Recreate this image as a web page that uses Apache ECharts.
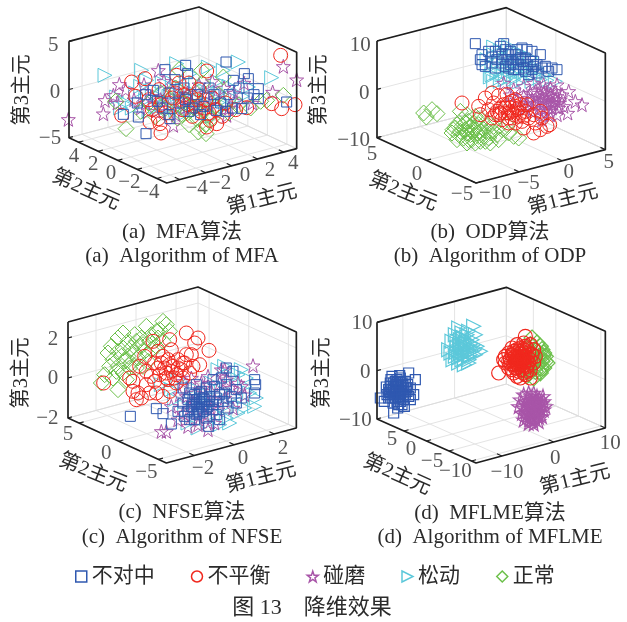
<!DOCTYPE html>
<html><head><meta charset="utf-8">
<style>html,body{margin:0;padding:0;background:#fff}#c{width:627px;height:622px}</style>
<script src="https://cdn.jsdelivr.net/npm/echarts@6/dist/echarts.min.js"></script></head>
<body><div id="c"></div>
<script>
// Projected plane values, [horizontal, vertical]
const aCyan=[[108,323],[218,338],[323,358],[508,363],[608,316],[418,348],[463,338],[233,308],[143,258],[363,328],[538,288],[280,240],[320,220],[350,210],[380,250],[400,220],[420,240],[300,260],[260,230],[430,200],[470,230],[500,250],[450,270],[400,280],[340,280],[310,300],[250,280],[200,270],[170,240],[230,250],[520,260],[480,290],[380,300],[280,300],[190,225],[345,245],[415,265],[290,225],[445,305],[365,275],[240,215],[155,225],[325,265],[385,235],[270,258],[455,245],[215,290]];
const aPurple=[[-2,191],[103,208],[108,248],[151,296],[133,263],[268,338],[313,173],[643,350],[683,310],[611,273],[473,203],[170,280],[195,250],[225,295],[250,260],[285,305],[310,280],[335,255],[365,240],[390,295],[410,270],[440,255],[465,285],[495,270],[525,300],[550,240],[345,225],[295,235],[215,225],[145,240],[385,225],[430,305],[260,215],[320,205],[480,225],[355,270],[275,250],[420,235],[500,245],[230,240]];
const aGreen=[[171,163],[388,153],[411,148],[643,263],[593,248],[398,338],[463,318],[140,245],[215,215],[260,200],[290,225],[325,195],[355,210],[385,190],[405,215],[430,195],[360,175],[345,240],[300,250],[370,260],[410,175],[440,230],[480,210],[510,235],[545,225],[575,245],[240,240],[275,270],[395,240],[320,285],[450,265],[400,300],[330,340],[400,165],[420,200],[340,205],[375,225]];
const aRed=[[635,383],[678,235],[638,223],[608,238],[533,226],[188,303],[228,313],[413,336],[323,323],[158,203],[243,183],[268,193],[276,150],[273,178],[413,168],[443,178],[423,188],[200,260],[240,250],[270,280],[300,240],[320,270],[350,250],[380,230],[410,250],[440,220],[470,240],[500,220],[340,220],[290,210],[250,220],[370,200],[420,210],[460,200],[390,280],[330,300],[360,300],[310,255],[355,235],[395,215],[275,235],[345,265],[430,255],[365,260],[385,250],[405,225]];
const aBlue=[[231,148],[163,206],[208,198],[303,193],[288,340],[350,353],[356,328],[471,363],[526,328],[538,313],[568,283],[568,253],[653,243],[518,223],[443,218],[318,310],[493,308],[253,278],[205,240],[230,265],[280,225],[300,270],[330,240],[360,215],[385,265],[405,230],[455,240],[480,265],[510,285],[535,255],[490,225],[370,225],[345,285],[265,245],[555,265],[420,285],[300,205],[395,205],[350,250],[435,265],[470,215]];

const bCyan=[[350,408],[370,395],[395,410],[330,370],[345,350],[360,330],[380,345],[400,320],[420,300],[350,305],[345,325],[390,375],[410,395],[425,365],[440,385],[455,350],[470,325],[490,310],[510,308],[535,305],[440,310],[415,335],[365,365],[385,310],[460,375],[480,345],[500,325],[405,355],[445,335],[375,325],[430,345],[350,385],[340,318],[395,335],[420,320],[465,305],[370,305],[410,310]];
const bPurple=[[380,300],[410,280],[440,290],[470,300],[500,295],[520,285],[540,295],[575,275],[595,245],[615,235],[572,210],[560,230],[540,260],[520,265],[500,270],[480,260],[460,270],[440,260],[420,250],[400,265],[450,240],[470,235],[490,245],[510,250],[530,240],[550,250],[545,225],[525,225],[505,225],[485,220],[465,215],[520,205],[500,205],[540,205],[495,190],[525,240],[510,265],[490,280],[465,250],[535,275],[555,265],[480,240],[515,235],[500,240],[445,225],[495,255],[515,215],[535,250],[475,275],[505,280],[455,255],[525,258],[545,240]];
const bGreen=[[148,198],[165,220],[180,208],[140,210],[228,160],[240,175],[255,190],[270,205],[250,215],[275,185],[295,200],[315,190],[335,180],[350,170],[290,165],[265,160],[245,145],[225,150],[260,135],[280,145],[300,150],[320,160],[340,150],[360,145],[375,160],[395,150],[410,140],[425,135],[390,175],[365,130],[340,120],[310,125],[295,120],[285,130],[335,135],[305,175],[280,170],[255,170],[320,140],[240,130],[300,190],[270,120],[250,155],[270,150],[290,180],[310,155],[330,170],[265,180],[285,155],[305,140],[350,155],[235,165],[275,130],[325,125]];
const bRed=[[255,240],[305,230],[325,255],[345,270],[365,262],[390,265],[310,205],[335,220],[350,240],[370,225],[395,240],[415,250],[430,235],[345,195],[365,205],[385,210],[405,215],[425,200],[445,215],[375,190],[395,195],[415,180],[435,185],[455,195],[470,205],[490,215],[475,180],[495,195],[440,165],[470,150],[490,160],[510,170],[518,175],[400,225],[420,220],[380,235],[360,215],[410,205],[395,180],[450,235],[405,245],[430,210],[385,225],[370,210],[415,230],[395,210],[355,205],[440,200],[425,225],[405,195]];
const bBlue=[[295,418],[380,418],[315,385],[310,370],[315,355],[325,350],[345,378],[355,395],[370,410],[385,400],[395,385],[405,370],[420,400],[435,405],[450,400],[465,395],[490,385],[470,365],[445,375],[425,355],[395,345],[375,360],[355,345],[410,340],[440,345],[465,340],[480,355],[495,345],[480,330],[455,325],[505,350],[525,345],[540,340],[515,335],[360,370],[335,395],[400,355],[430,375],[375,385],[450,355],[415,385],[345,360],[470,350],[390,370],[410,360],[435,365],[460,365],[425,340],[385,350],[445,335],[400,395],[420,370]];

const cCyan=[[280,235],[310,220],[330,250],[450,280],[470,290],[520,280],[535,255],[565,195],[510,150],[485,120],[455,115],[420,120],[390,105],[360,120],[400,190],[430,240],[470,170],[500,200],[530,230],[545,210],[350,170],[320,190],[440,150],[490,260],[375,225],[415,205],[460,215],[510,265],[560,170],[530,165],[475,135]];
const cPurple=[[280,95],[295,95],[555,292],[470,280],[330,130],[345,150],[360,110],[375,180],[390,115],[400,240],[420,260],[440,120],[460,280],[475,250],[490,225],[510,240],[530,205],[380,210],[355,200],[410,145],[430,215],[450,160],[470,195],[495,165],[520,230],[345,245],[370,255],[420,100],[395,130],[440,190],[335,205],[310,170],[405,225],[365,165],[455,240],[425,165]];
const cGreen=[[100,240],[150,220],[130,350],[150,375],[165,390],[120,330],[135,310],[150,290],[165,270],[180,320],[165,345],[180,365],[200,385],[220,375],[215,350],[200,330],[190,300],[170,305],[210,315],[230,335],[245,365],[265,395],[285,425],[295,415],[275,400],[305,395],[250,340],[265,350],[285,365],[225,290],[205,285],[240,305],[135,255],[125,290],[150,335],[235,410],[110,265],[190,345],[205,365],[160,320],[185,285],[145,275],[225,355],[250,385],[270,375],[175,250]];
const cRed=[[107,240],[355,390],[390,375],[423,338],[370,325],[380,360],[255,365],[305,370],[270,335],[230,320],[215,290],[235,275],[260,300],[285,320],[310,340],[330,310],[350,300],[375,290],[395,295],[365,270],[340,280],[315,290],[295,270],[270,285],[250,260],[280,300],[300,250],[325,265],[345,255],[195,245],[210,210],[195,215],[220,195],[245,210],[265,210],[285,200],[305,215],[325,240],[185,255],[205,190],[260,245],[355,325],[300,310],[235,235],[290,285],[310,275],[330,285],[275,265],[305,295],[320,255],[345,300],[295,255]];
const cBlue=[[187,140],[265,163],[285,148],[310,117],[422,110],[475,285],[495,275],[560,250],[563,235],[560,210],[520,195],[330,155],[345,180],[350,140],[365,210],[370,170],[380,130],[385,190],[395,150],[400,215],[410,175],[415,135],[425,200],[435,160],[440,230],[450,185],[455,130],[460,255],[470,210],[480,165],[490,200],[505,180],[375,190],[395,180],[405,195],[390,165],[360,155],[420,170],[445,145],[415,225],[385,235],[345,225],[435,250],[475,235],[505,220],[395,210],[375,150],[455,205],[405,155],[425,185],[365,130],[385,175],[400,185],[380,205],[410,190],[390,155],[400,170],[375,170],[415,160],[395,195],[435,175],[385,145],[445,195],[360,190],[465,185]];

const dCyan=[[290,410],[245,405],[215,340],[310,335],[225,365],[235,320],[240,345],[250,370],[255,310],[258,335],[265,360],[270,385],[275,320],[280,345],[285,370],[262,295],[245,300],[275,300],[295,325],[300,350],[295,385],[255,390],[235,385],[228,310],[265,325],[250,330],[285,335],[270,350],[260,375],[240,365],[290,355],[265,345],[275,395],[222,330],[248,355],[255,350],[280,325],[262,312],[272,335],[258,345],[245,315],[268,368],[282,358],[252,322],[238,332],[292,340],[263,355],[276,310],[256,378]];
const dPurple=[[425,170],[430,190],[435,150],[440,205],[440,130],[445,175],[445,160],[450,195],[450,140],[455,210],[455,120],[458,180],[458,150],[460,165],[462,200],[462,130],[465,190],[465,145],[468,172],[470,210],[470,118],[472,155],[475,185],[475,135],[478,165],[480,200],[480,145],[483,175],[485,125],[488,190],[488,155],[490,165],[495,140],[495,180],[498,200],[500,160],[505,170],[438,165],[448,185],[452,155],[463,178],[470,160],[477,195],[484,150],[492,175],[444,145],[456,132],[468,128],[482,185],[452,172],[466,138],[474,175],[486,138],[500,185]];
const dGreen=[[465,375],[480,360],[495,340],[505,320],[510,300],[500,285],[490,270],[470,255],[450,262],[455,290],[470,310],[485,320],[475,340],[460,355],[445,340],[450,320],[465,290],[480,290],[495,305],[440,300],[455,275],[475,275],[490,350],[500,330],[485,300],[460,330],[470,325],[445,280],[505,305],[492,285],[498,322],[482,335],[488,275],[478,305]];
const dRed=[[365,270],[445,380],[460,255],[395,330],[385,300],[385,320],[395,285],[410,270],[420,260],[430,255],[445,265],[460,280],[470,300],[475,320],[470,340],[460,355],[440,360],[420,355],[405,345],[400,310],[410,295],[420,285],[435,280],[450,290],[460,310],[455,330],[440,340],[425,335],[415,320],[425,305],[440,310],[430,295],[445,320],[415,305],[405,325],[435,325],[450,305],[425,320],[435,305],[420,300],[440,295],[410,335],[430,345],[450,345],[465,325],[395,305],[405,280],[440,270],[425,275],[455,300],[430,315],[420,340],[445,350],[415,285],[380,310],[435,335],[425,290],[450,275],[410,315],[445,305],[418,312],[428,328],[438,318],[432,302],[422,295],[442,330],[412,328],[452,318],[402,298],[426,310]];
const dBlue=[[10,195],[22,185],[50,150],[62,165],[75,175],[115,250],[95,270],[45,260],[40,240],[55,245],[70,255],[85,245],[100,225],[110,205],[35,220],[30,205],[45,195],[60,185],[80,190],[95,200],[50,225],[65,235],[80,225],[60,210],[70,200],[45,210],[90,215],[75,210],[55,195],[40,230],[65,220],[85,205],[70,185],[50,240],[60,250],[75,240],[35,195],[100,190],[65,175],[55,215],[78,232],[42,250],[92,235],[68,262],[28,228],[82,170],[58,228],[72,218],[48,180],[62,198],[52,205],[68,208],[78,198],[58,236],[48,218],[84,214],[66,192],[44,222],[74,228],[56,220],[62,242],[88,226],[38,212],[70,232]];

// Classes
const classNames=['不对中','不平衡','碰磨','松动','正常'];
// Tick labels
const aPc1=[-4,-2,0,2,4], aPc2=[4,2,0,-2,-4], aPc3=[5,0,-5];
const bPc1=[-10,-5,0,5], bPc2=[5,0,-5], bPc3=[10,0,-10];
const cPc1=[-2,0,2], cPc2=[5,0,-5], cPc3=[2,0,-2];
const dPc1=[-10,0,10], dPc2=[5,0,-5,-10], dPc3=[10,0,-10];
// Captions
const captions=[['(a)  MFA算法','(a)  Algorithm of MFA'],['(b)  ODP算法','(b)  Algorithm of ODP'],['(c)  NFSE算法','(c)  Algorithm of NFSE'],['(d)  MFLME算法','(d)  Algorithm of MFLME']];
const figTitle='图 13    降维效果';

// ---- layout and style ----
const FONT='"Liberation Serif","Noto Sans CJK SC",serif', INK='#2b2b2b';
const COL={blue:'#2f58b0',red:'#f0281e',purple:'#a855a8',cyan:'#5cc8da',green:'#6cc04a'};
const STAR='path://M5,0L6.2,3.7L10,3.8L7,6.1L8.1,9.8L5,7.6L1.9,9.8L3,6.1L0,3.8L3.8,3.7Z';
const TRI='path://M0,0L10,5L0,10Z';
const SYM={blue:['rect',10],red:['circle',14],purple:[STAR,14],cyan:[TRI,14],green:['diamond',16]};
const NAME={blue:classNames[0],red:classNames[1],purple:classNames[2],cyan:classNames[3],green:classNames[4]};
const panels=[
 {left:69,bottom:183,A:[0,136],F:[293,0],R:[683,103],h:289,
  r1:[-5,5],r2:[-5,5],r3:[-5,5],t1:aPc1,t2:aPc2,t3:aPc3,
  l1:[[383,-17],[453,-2],[528,23],[603,38],[673,58]],l2:[[15,80],[73,56],[126,30],[181,3],[238,-27]],l3:[[-47,413],[-42,273],[-57,133]],
  s:{cyan:aCyan,purple:aPurple,green:aGreen,red:aRed,blue:aBlue},
  n3:[23,90],n2:[86,190,-24],n1:[262,200,14],cap:[182,232,256]},
 {left:377,bottom:183,A:[0,136],F:[297,0],R:[685,100],h:290,
  r1:[-10,5],r2:[-5,5],r3:[-10,10],t1:bPc1,t2:bPc2,t3:bPc3,
  l1:[[355,-32],[455,-2],[575,31],[695,63]],l2:[[-15,85],[120,25],[255,-34]],l3:[[-50,413],[-38,270],[-70,128]],
  s:{cyan:bCyan,purple:bPurple,green:bGreen,red:bRed,blue:bBlue},
  n3:[320,90],n2:[403,192,-22],n1:[563,200,14],cap:[490,232,256]},
 {left:68,bottom:463,A:[0,135],F:[295,0],R:[685,105],h:288,
  r1:[-3.4,3.1],r2:[-6,6.4],r3:[-2,2.8],t1:cPc1,t2:cPc2,t3:cPc3,
  l1:[[405,-15],[525,15],[645,45]],l2:[[0,85],[115,30],[235,-27]],l3:[[-45,370],[-45,253],[-62,133]],
  s:{cyan:cCyan,purple:cPurple,green:cGreen,red:cRed,blue:cBlue},
  n3:[22,373],n2:[93,473,-22],n1:[261,478,14],cap:[182,512,537]},
 {left:377,bottom:463,A:[0,132],F:[297,0],R:[685,105],h:290,
  r1:[-15,10],r2:[-11,11],r3:[-10,10],t1:dPc1,t2:dPc2,t3:dPc3,
  l1:[[390,-28],[535,15],[700,60]],l2:[[45,70],[102,40],[165,5],[235,-25]],l3:[[-45,418],[-35,272],[-65,128]],
  s:{cyan:dCyan,purple:dPurple,green:dGreen,red:dRed,blue:dBlue},
  n3:[323,373],n2:[397,475,-24],n1:[575,480,14],cap:[490,513,537]}
];
const add=(p,q,k=1)=>[p[0]+q[0]*k,p[1]+q[1]*k], sub=(p,q)=>[p[0]-q[0],p[1]-q[1]];
const grids=[],xAxes=[],yAxes=[],series=[],graphic=[];
const fmt=v=>String(v).replace('-','\u2212');
function text(x,y,s,size,rot){graphic.push({type:'text',x,y,rotation:(rot||0)*Math.PI/180,silent:true,
  style:{text:s,font:size+'px '+FONT,fill:INK,textAlign:'center',textVerticalAlign:'middle'}});}
panels.forEach((p,i)=>{
  grids.push({left:p.left,width:228,top:p.bottom-180,height:180});
  xAxes.push({gridIndex:i,type:'value',min:0,max:684,show:false});
  yAxes.push({gridIndex:i,type:'value',min:0,max:540,show:false});
  const line=(pts,color,w,z)=>series.push({type:'line',xAxisIndex:i,yAxisIndex:i,data:pts,showSymbol:false,silent:true,clip:false,z,lineStyle:{color,width:w},animation:false});
  const {A,F,R,h}=p, B=add(add(A,R),F,-1), up=[0,h], fr=sub(R,F), fa=sub(A,F);
  const GR='#e4e4e4';
  p.t3.forEach(v=>{const k=(v-p.r3[0])/(p.r3[1]-p.r3[0])*h,u=[0,k];
    line([add(A,u),add(B,u),add(R,u)],GR,1,1);
    line([add(A,u),add(A,u,1).map((c,j)=>c+sub(B,A)[j]*0.03)],'#222',1.2,6);});
  p.t1.forEach(v=>{const t=(v-p.r1[0])/(p.r1[1]-p.r1[0]),P=add(F,fr,t),Q=add(P,fa);
    line([P,Q,add(Q,up)],GR,1,1);
    line([P,add(P,fa,0.05)],'#222',1.2,6);});
  p.t2.forEach(v=>{const t=(p.r2[1]-v)/(p.r2[1]-p.r2[0]),P=add(A,sub(F,A),t),Q=add(P,fr);
    line([P,Q,add(Q,up)],GR,1,1);
    line([P,add(P,fr,0.035)],'#222',1.2,6);});
  line([A,add(add(A,R),F,-1),R],'#dcdcdc',1,1); line([B,add(B,up)],'#dcdcdc',1,1);
  ['cyan','purple','green','red','blue'].forEach(k=>{
    const [sym,size]=SYM[k];
    series.push({name:NAME[k],type:'scatter',xAxisIndex:i,yAxisIndex:i,data:p.s[k],symbol:sym,symbolSize:size,clip:false,z:3,silent:true,animation:false,
      itemStyle:{color:'rgba(255,255,255,0)',borderColor:COL[k],borderWidth:i===3?1.2:1,opacity:1}});
  });
  line([add(A,up),A,F,R,add(R,up),add(B,up),add(A,up)],'#1e1e1e',1.7,6);
  const lab=(vals,pos)=>series.push({type:'scatter',xAxisIndex:i,yAxisIndex:i,symbolSize:1,clip:false,silent:true,z:7,animation:false,
    itemStyle:{color:'rgba(0,0,0,0)'},
    label:{show:true,position:'inside',formatter:'{b}',fontFamily:FONT,fontSize:21,color:INK},
    data:vals.map((v,j)=>({name:fmt(v),value:pos[j]}))});
  lab(p.t1,p.l1);lab(p.t2,p.l2);lab(p.t3,p.l3);
  text(p.n3[0],p.n3[1],'第3主元',20.5,90);
  text(p.n2[0],p.n2[1],'第2主元',20.5,p.n2[2]);
  text(p.n1[0],p.n1[1],'第1主元',20.5,p.n1[2]);
  text(p.cap[0],p.cap[1],captions[i][0],21);
  text(p.cap[0],p.cap[2],captions[i][1],21);
});
text(312,608,figTitle,22);
const chart=echarts.init(document.getElementById('c'),null,{renderer:'canvas'});
chart.setOption({animation:false,backgroundColor:'#fff',grid:grids,xAxis:xAxes,yAxis:yAxes,series,graphic:{elements:graphic},
  legend:{data:classNames,selectedMode:false,left:70,top:561,itemWidth:11,itemHeight:11,itemGap:36,
    textStyle:{fontFamily:FONT,fontSize:21,color:INK},itemStyle:{borderWidth:1.5}}});
</script></body></html>
